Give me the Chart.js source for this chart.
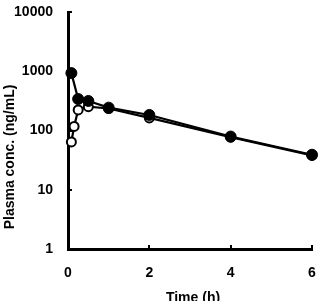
<!DOCTYPE html>
<html>
<head>
<meta charset="utf-8">
<script src="https://cdn.jsdelivr.net/npm/chart.js@4"></script>
<style>
html, body { margin: 0; padding: 0; background: #fff; }
#wrap { width: 320px; height: 301px; }
</style>
</head>
<body>
<div id="wrap"><canvas id="pkChart"></canvas></div>
<script>
const timeFilled = [0.083, 0.25, 0.5, 1, 2, 4, 6];
const concFilled = [930, 340, 315, 243, 183, 79, 39];
const timeOpen = [0.083, 0.15, 0.25, 0.5, 1, 2, 4, 6];
const concOpen = [64, 117, 222, 252, 235, 163, 77, 38];
const yTicks = [1, 10, 100, 1000, 10000];
const xTicks = [0, 2, 4, 6];
const xTitle = "Time (h)";
const yTitle = "Plasma conc. (ng/mL)";

const fontFamily = "'Liberation Sans', Arial, sans-serif";
Chart.defaults.font.family = fontFamily;
Chart.defaults.color = "#000";

// inward tick marks + axis titles
const axisExtras = {
	id: "axisExtras",
	afterDraw(chart) {
		const ctx = chart.ctx;
		const area = chart.chartArea;
		const xs = chart.scales.x;
		const ys = chart.scales.y;
		ctx.save();
		ctx.strokeStyle = "#000";
		ctx.lineWidth = 2;
		ctx.beginPath();
		yTicks.forEach((v) => {
			const py = Math.round(ys.getPixelForValue(v));
			ctx.moveTo(area.left, py);
			ctx.lineTo(area.left + 4, py);
		});
		xTicks.forEach((v) => {
			const px = Math.round(xs.getPixelForValue(v));
			ctx.moveTo(px, area.bottom);
			ctx.lineTo(px, area.bottom - 4);
		});
		ctx.stroke();
		ctx.fillStyle = "#000";
		ctx.font = "bold 14px " + fontFamily;
		ctx.textAlign = "center";
		ctx.textBaseline = "alphabetic";
		ctx.fillText(xTitle, (area.left + area.right) / 2 + 3, 302);
		ctx.translate(13.5, 157);
		ctx.rotate(-Math.PI / 2);
		ctx.fillText(yTitle, 0, 0);
		ctx.restore();
	},
};

function noOverflow(scale) {
	scale.paddingTop = 0;
	scale.paddingBottom = 0;
	scale.paddingLeft = 0;
	scale.paddingRight = 0;
}

new Chart(document.getElementById("pkChart"), {
	type: "line",
	data: {
		datasets: [
			{
				label: "filled",
				data: timeFilled.map((t, i) => ({ x: t, y: concFilled[i] })),
				borderColor: "#000",
				borderWidth: 2.2,
				backgroundColor: "#000",
				pointBackgroundColor: "#000",
				pointBorderColor: "#000",
				pointRadius: 5.5,
				pointBorderWidth: 1,
				tension: 0,
				clip: false,
			},
			{
				label: "open",
				data: timeOpen.map((t, i) => ({ x: t, y: concOpen[i] })),
				borderColor: "#000",
				borderWidth: 2.2,
				pointBackgroundColor: "#fff",
				pointBorderColor: "#000",
				pointRadius: 4.5,
				pointBorderWidth: 2,
				tension: 0,
				clip: false,
			},
		],
	},
	options: {
		responsive: true,
		maintainAspectRatio: false,
		animation: false,
		layout: {
			padding: { left: 0, top: 12, right: 8, bottom: 0 },
		},
		plugins: {
			legend: { display: false },
			tooltip: { enabled: false },
		},
		scales: {
			x: {
				type: "linear",
				min: 0,
				max: 6,
				grid: { display: false, drawTicks: false },
				border: { display: true, color: "#000", width: 3 },
				ticks: {
					stepSize: 2,
					padding: 16,
					font: { size: 14, weight: "bold" },
					color: "#000",
				},
				afterFit(scale) {
					scale.height = 52;
					noOverflow(scale);
				},
			},
			y: {
				type: "logarithmic",
				min: 1,
				max: 10000,
				grid: { display: false, drawTicks: false },
				border: { display: true, color: "#000", width: 3 },
				afterBuildTicks(scale) {
					scale.ticks = yTicks.map((v) => ({ value: v }));
				},
				ticks: {
					padding: 15,
					font: { size: 14, weight: "bold" },
					color: "#000",
					callback: (v) => String(v),
				},
				afterFit(scale) {
					scale.width = 68;
					noOverflow(scale);
				},
			},
		},
	},
	plugins: [axisExtras],
});
</script>
</body>
</html>
